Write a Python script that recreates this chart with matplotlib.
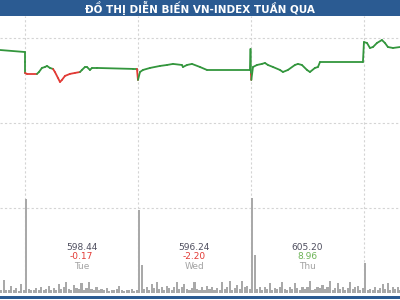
import matplotlib
matplotlib.use('Agg')
import matplotlib.pyplot as plt
from matplotlib.collections import LineCollection
from matplotlib.patches import Rectangle
import numpy as np

# intraday VN-Index (day number + fraction of session), index points, segment colour
price_t = [0.779, 1.0, 1.0, 1.0, 1.018, 1.106, 1.124, 1.150, 1.177, 1.195, 1.221, 1.248,
           1.265, 1.292, 1.310, 1.327, 1.354, 1.398, 1.442, 1.487, 1.504, 1.531, 1.549,
           1.575, 1.593, 1.637, 1.956, 1.991, 2.0, 2.018, 2.044, 2.106, 2.195, 2.257,
           2.310, 2.389, 2.398, 2.434, 2.478, 2.549, 2.611, 2.991, 2.996, 3.0, 3.003,
           3.018, 3.053, 3.097, 3.124, 3.150, 3.195, 3.257, 3.283, 3.327, 3.389, 3.416,
           3.451, 3.496, 3.522, 3.566, 3.593, 3.611, 3.991, 4.0, 4.027, 4.053, 4.080,
           4.115, 4.159, 4.186, 4.212, 4.257, 4.319]
price_v = [604.87, 604.68, 603.74, 602.71, 602.62, 602.62, 602.80, 603.18, 603.27, 603.37,
           603.18, 603.09, 602.80, 602.24, 601.86, 602.05, 602.43, 602.62, 602.71, 602.80,
           602.99, 603.27, 603.27, 602.99, 603.18, 603.18, 603.09, 603.09, 602.05, 602.80,
           602.99, 603.18, 603.37, 603.46, 603.56, 603.46, 603.27, 603.46, 603.56, 603.27,
           602.99, 602.99, 604.96, 602.60, 602.05, 603.27, 603.46, 603.56, 603.65, 603.46,
           603.27, 602.99, 602.80, 602.99, 603.46, 603.56, 603.46, 602.99, 602.80, 603.18,
           603.27, 603.74, 603.74, 605.62, 605.53, 605.06, 605.15, 605.53, 605.81, 605.53,
           605.15, 605.06, 605.15]
seg_col = list('gggrrgggggg' 'rrrrrrrr' 'gggggggg' 'r' 'gggggggggggggg' 'gr' 'g'
               'gggggggggggggggg' 'g' 'ggggggggg')

# matched volume (million shares), one bar per slot
vol_mon = [0.3, 1.4, 0.35, 0.3, 0.75, 0.3, 0.5, 0.2, 1.0, 0.3]
vol_tue = [10.2, 0.4, 0.3, 0.35, 0.5, 0.3, 0.6, 0.3, 0.4, 0.8, 0.3, 0.5, 0.3, 1.0, 0.4,
           0.6, 1.2, 0.45, 0.3, 0.9, 0.5, 0.4, 1.1, 0.3, 0.5, 1.2, 0.4, 0.3, 0.6, 0.3,
           0.4, 0.3, 0.5, 0.25, 0.35, 0.3, 0.4, 0.8, 0.3, 0.25, 0.35, 0.3, 0.4, 0.25, 0.35]
vol_wed = [9.0, 3.0, 0.4, 0.7, 0.35, 1.0, 0.5, 1.2, 0.4, 0.6, 0.3, 0.8, 0.5, 0.3, 0.7,
           1.2, 0.4, 0.6, 1.0, 0.4, 0.3, 0.5, 1.2, 0.4, 0.3, 0.6, 0.35, 0.8, 0.4, 0.7,
           0.3, 0.5, 0.35, 1.2, 0.4, 0.6, 1.3, 0.35, 0.5, 0.9, 0.4, 1.3, 0.6, 0.8, 0.4]
vol_thu = [10.3, 4.1, 0.4, 0.6, 0.35, 0.7, 0.4, 1.1, 0.35, 0.5, 0.4, 0.7, 1.2, 0.4, 0.3,
           0.6, 0.4, 1.1, 0.5, 0.3, 0.7, 0.4, 0.6, 1.3, 0.3, 0.4, 0.7, 0.5, 0.9, 0.4,
           0.6, 1.3, 0.3, 0.5, 1.1, 0.4, 0.7, 0.35, 0.5, 1.2, 0.4, 0.6, 0.8, 0.35, 0.5]
vol_fri = [3.2, 0.35, 0.4, 0.3, 0.7, 0.35, 0.5, 1.0, 0.4, 1.1, 0.35, 0.6, 0.4, 0.7, 0.35]

days = ['Tue', 'Wed', 'Thu']
closes = ['598.44', '596.24', '605.20']
changes = [-0.17, -2.20, 8.96]

BLUE = '#2b5b92'
GREEN = '#33963d'
RED = '#e23a35'

fig = plt.figure(figsize=(4, 3), dpi=100)
fig.patch.set_facecolor('white')

ax = fig.add_axes([0, 7/300, 1, 277/300])
ax.set_xlim(0.779, 4.319)
ax.set_ylim(582.0, 608.07)
ax.set_xticks([1, 2, 3, 4])
ax.set_yticks([582, 590, 598, 606])
ax.grid(color='#d4d4d4', linestyle=(0, (2, 2)), linewidth=0.8)
ax.tick_params(length=0, labelbottom=False, labelleft=False)
for s in ax.spines.values():
    s.set_visible(False)

# volume bars on their own scale
axv = ax.twinx()
axv.set_ylim(0, 30)
axv.set_yticks([])
for s in axv.spines.values():
    s.set_visible(False)
n = 45
w = 0.85 / n
mon_t = [1 - (len(vol_mon) - i - 0.5) / n for i in range(len(vol_mon))]
axv.bar(mon_t, vol_mon, width=w, color='#a9a9a9', lw=0)
for d, vols in zip([1, 2, 3, 4], [vol_tue, vol_wed, vol_thu, vol_fri]):
    tt = [d + (i + 0.5) / n for i in range(len(vols))]
    axv.bar(tt, vols, width=w, color='#a9a9a9', lw=0)

# price line, coloured by segment
pts = np.column_stack([price_t, price_v])
segs = np.stack([pts[:-1], pts[1:]], axis=1)
cols = [GREEN if c == 'g' else RED for c in seg_col[:len(segs)]]
lc = LineCollection(segs, colors=cols, linewidths=1.3, capstyle='round', joinstyle='round')
axv.add_collection(lc)
lc.set_transform(ax.transData)

# daily close labels
tr = ax.get_xaxis_transform()
for i, day in enumerate(days):
    x = i + 1.5
    ax.text(x, 0.164, closes[i], transform=tr, ha='center', va='center',
            fontsize=6.5, color='#4e4e5e')
    ax.text(x, 0.130, f'{changes[i]:.2f}', transform=tr, ha='center', va='center',
            fontsize=6.5, color=RED if changes[i] < 0 else '#6cb356')
    ax.text(x, 0.096, day, transform=tr, ha='center', va='center',
            fontsize=6.5, color='#a3a3a3')

# title bar and bottom rule
fig.patches.append(Rectangle((0, 1 - 16/300), 1, 16/300, transform=fig.transFigure,
                             facecolor=BLUE, edgecolor='none', zorder=5))
fig.patches.append(Rectangle((0, 0.003), 1, 0.01, transform=fig.transFigure,
                             facecolor=BLUE, edgecolor='none', zorder=5))
fig.text(0.5, 1 - 8/300, 'ĐỒ THỊ DIỄN BIẾN VN-INDEX TUẦN QUA', ha='center', va='center',
         color='white', fontsize=7.5, fontweight='bold', zorder=6)

fig.savefig('out.png', dpi=100)
